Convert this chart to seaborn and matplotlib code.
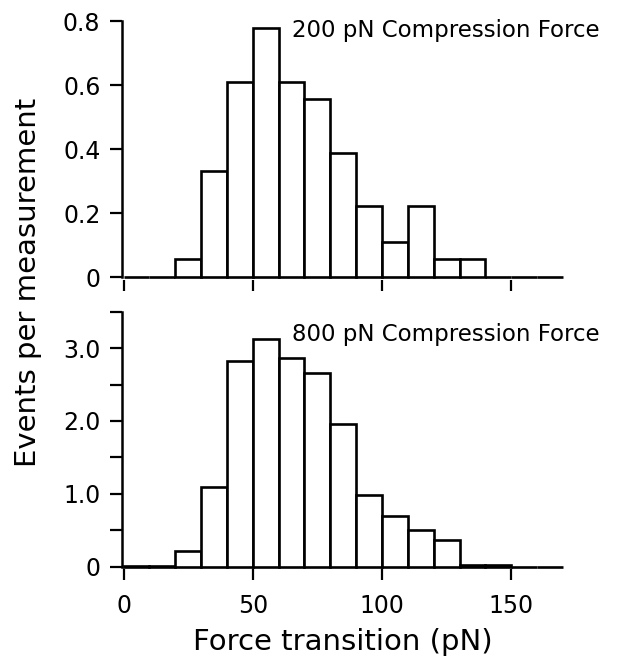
import matplotlib
matplotlib.use("Agg")
import matplotlib.pyplot as plt
import seaborn as sns
import numpy as np
from matplotlib.ticker import FixedLocator

# ---- data ----
bin_left = [0, 10, 20, 30, 40, 50, 60, 70, 80, 90, 100, 110, 120, 130, 140, 150, 160]
bin_width = 10
top_values = [0, 0, 0.056, 0.333, 0.611, 0.778, 0.611, 0.556, 0.389, 0.222,
              0.111, 0.222, 0.056, 0.056, 0, 0, 0]
bottom_values = [0.01, 0.01, 0.21, 1.09, 2.83, 3.13, 2.86, 2.66, 1.96, 0.99,
                 0.69, 0.50, 0.36, 0.02, 0.02, 0, 0]
top_label = "200 pN Compression Force"
bottom_label = "800 pN Compression Force"
x_ticks = [0, 50, 100, 150]
x_ticklabels = ["0", "50", "100", "150"]
top_yticks = [0, 0.2, 0.4, 0.6, 0.8]
top_yticklabels = ["0", "0.2", "0.4", "0.6", "0.8"]
bottom_yticks = [0, 1, 2, 3]
bottom_yticklabels = ["0", "1.0", "2.0", "3.0"]
bottom_yminor = [0.5, 1.5, 2.5, 3.5]
xlabel = "Force transition (pN)"
ylabel = "Events per measurement"

sns.set_style("ticks")
plt.rcParams["font.family"] = ["DejaVu Sans"]
plt.rcParams["text.color"] = "black"
plt.rcParams["axes.labelcolor"] = "black"
plt.rcParams["xtick.color"] = "black"
plt.rcParams["ytick.color"] = "black"
plt.rcParams["axes.edgecolor"] = "black"

fig = plt.figure(figsize=(6.19, 6.58), dpi=100)
W, H = 619, 658
left = 123.5 / W
width = 439.5 / W
ax_top = fig.add_axes([left, 1 - 277.3 / H, width, 256 / H])
ax_bot = fig.add_axes([left, 1 - 566.7 / H, width, 255 / H])

edges = list(bin_left) + [bin_left[-1] + bin_width]
centers = [b + bin_width / 2 for b in bin_left]

for ax, vals, ylim, label, ty in [
    (ax_top, top_values, (0, 0.8), top_label, 0.752),
    (ax_bot, bottom_values, (0, 3.5), bottom_label, 3.10),
]:
    sns.histplot(x=centers, weights=vals, bins=edges, ax=ax,
                 color="white", edgecolor="black", linewidth=1.9, alpha=1)
    for p in ax.patches:
        p.set_clip_on(False)
    ax.set_xlim(0, 170)
    ax.set_ylim(*ylim)
    ax.set_ylabel("")
    ax.set_xlabel("")
    ax.spines["top"].set_visible(False)
    ax.spines["right"].set_visible(False)
    ax.spines["bottom"].set_position(("outward", 2))
    ax.spines["bottom"].set_visible(False)
    ax.spines["left"].set_linewidth(1.8)
    ax.spines["left"].set_position(("outward", 1))
    ax.set_xticks(x_ticks)
    ax.tick_params(axis="x", direction="out", length=8, width=1.6, pad=10,
                   labelsize=17, color="black", labelcolor="black")
    ax.tick_params(axis="y", which="both", direction="out", length=8.6, width=1.6,
                   pad=7, labelsize=17, color="black", labelcolor="black")
    ax.text(65.2, ty, label, fontsize=16.5, va="baseline", ha="left", color="black")
    ax.set_facecolor("white")

ax_top.set_yticks(top_yticks)
ax_top.set_yticklabels(top_yticklabels)
ax_top.set_xticklabels([])

ax_bot.set_yticks(bottom_yticks)
ax_bot.set_yticklabels(bottom_yticklabels)
ax_bot.yaxis.set_minor_locator(FixedLocator(bottom_yminor))
ax_bot.set_xticklabels(x_ticklabels)
ax_bot.set_xlabel(xlabel, fontsize=21, labelpad=7, color="black")

fig.text(28.5 / W, 1 - 282 / H, ylabel, rotation=90, fontsize=21,
         ha="center", va="center", color="black")

fig.savefig("out.png", dpi=100, facecolor="white")
